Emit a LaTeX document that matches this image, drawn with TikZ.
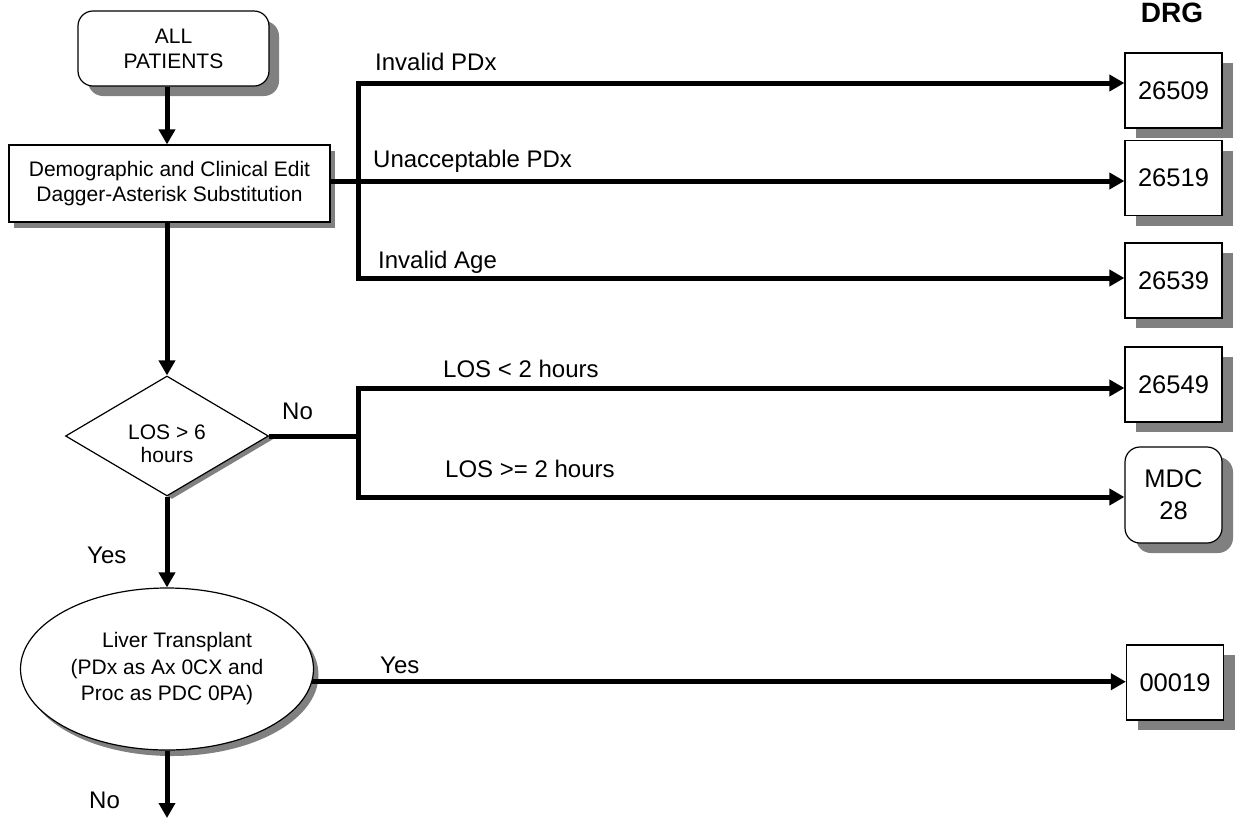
\documentclass[tikz,border=0pt]{standalone}
\usepackage{fontspec}
\setmainfont{Liberation Sans}
\usetikzlibrary{arrows.meta}
\usetikzlibrary{shapes.geometric}
\usetikzlibrary{shadows}
\definecolor{mgray}{RGB}{128, 128, 128}
\tikzset{flow/.style = {line width=5pt, -{Triangle[length=15pt, width=16pt]}},
         link/.style = {line width=5pt},
         box/.style = {draw, line width=1.2pt, fill=white, align=center, inner sep=0pt,
                       font=\fontsize{21}{25}\selectfont},
         drg/.style = {box, minimum width=97pt, minimum height=75pt,
                       font=\fontsize{25.5}{32}\selectfont,
                       drop shadow={shadow xshift=11pt, shadow yshift=-10pt, fill=mgray, opacity=1}},
         lbl/.style = {anchor=base west, inner sep=0pt, font=\fontsize{24}{28}\selectfont}}

\begin{document}
\begin{tikzpicture}[x=1pt, y=-1pt]
    \useasboundingbox (0, 0) rectangle (1237, 820);

    \node [box, rounded corners=15pt, minimum width=191pt, minimum height=75pt,
           drop shadow={shadow xshift=10pt, shadow yshift=-10pt, fill=mgray, opacity=1}]
          (start) at (173.5, 48.5) {ALL\\PATIENTS};
    \node [box, minimum width=321pt, minimum height=77pt,
           drop shadow={shadow xshift=5pt, shadow yshift=-6pt, fill=mgray, opacity=1}]
          (edit) at (169.5, 183.5) {Demographic and Clinical Edit\\Dagger-Asterisk Substitution};
    \node [box, diamond, aspect=1.7, minimum width=203pt, minimum height=120pt,
           font=\fontsize{21}{23}\selectfont,
           drop shadow={shadow xshift=5pt, shadow yshift=-3pt, fill=mgray, opacity=1}]
          (dia) at (167, 436) {\rule{0pt}{31pt}LOS > 6\\hours};
    \node [box, ellipse, minimum width=293pt, minimum height=162pt,
           font=\fontsize{21}{26.5}\selectfont,
           drop shadow={shadow xshift=5pt, shadow yshift=-6pt, fill=mgray, opacity=1}]
          (ell) at (167, 669) {\hspace*{20pt}Liver Transplant\\(PDx as Ax 0CX and\\Proc as PDC 0PA)};

    \node [font=\bfseries\fontsize{28}{32}\selectfont, inner sep=0pt, anchor=base] (drg) at (1172, 22) {DRG};
    \node [drg] (d26509) at (1173.5, 90.5) {26509};
    \node [drg] (d26519) at (1173.5, 178) {26519};
    \node [drg] (d26539) at (1173.5, 280.5) {26539};
    \node [drg] (d26549) at (1173.5, 384.5) {26549};
    \node [drg, rounded corners=15pt, minimum height=96pt] (mdc) at (1173.5, 495) {MDC\\28};
    \node [drg] (d00019) at (1175, 682.5) {00019};

    \coordinate (j1) at (358, 83);
    \coordinate (j2) at (358, 181);
    \coordinate (j3) at (358, 278);
    \coordinate (k1) at (358, 388);
    \coordinate (k2) at (358, 497);
    \coordinate (out) at (167, 818);

    \draw [flow] (start.south -| dia.north) -- (edit.north -| dia.north);
    \draw [flow] (edit.south -| dia.north) -- (dia.north);
    \draw [flow] (dia.south) -- (ell.north);
    \draw [flow] (ell.south) -- (out);

    \draw [link] (edit.east |- j2) -- (j2);
    \draw [link, line cap=rect] (j1) -- (j3);
    \draw [flow] (j1) -- (j1 -| d26509.west);
    \draw [flow] (j2) -- (j2 -| d26519.west);
    \draw [flow] (j3) -- (j3 -| d26539.west);

    \draw [link] (dia.east) -- (dia.east -| k1);
    \draw [link, line cap=rect] (k1) -- (k2);
    \draw [flow] (k1) -- (k1 -| d26549.west);
    \draw [flow] (k2) -- (k2 -| mdc.west);

    \draw [flow] (ell.-5.5) -- (ell.-5.5 -| d00019.west);

    \node [lbl] (invpdx) at (375, 70) {Invalid PDx};
    \node [lbl] (unpdx) at (373, 167) {Unacceptable PDx};
    \node [lbl] (invage) at (378, 268) {Invalid Age};
    \node [lbl] (losless) at (443, 377) {LOS < 2 hours};
    \node [lbl] (losmore) at (445, 477) {LOS >= 2 hours};
    \node [lbl] (diano) at (282, 419) {No};
    \node [lbl] (diayes) at (87, 563) {Yes};
    \node [lbl] (livyes) at (380, 673) {Yes};
    \node [lbl] (livno) at (89, 808) {No};
\end{tikzpicture}
\end{document}
